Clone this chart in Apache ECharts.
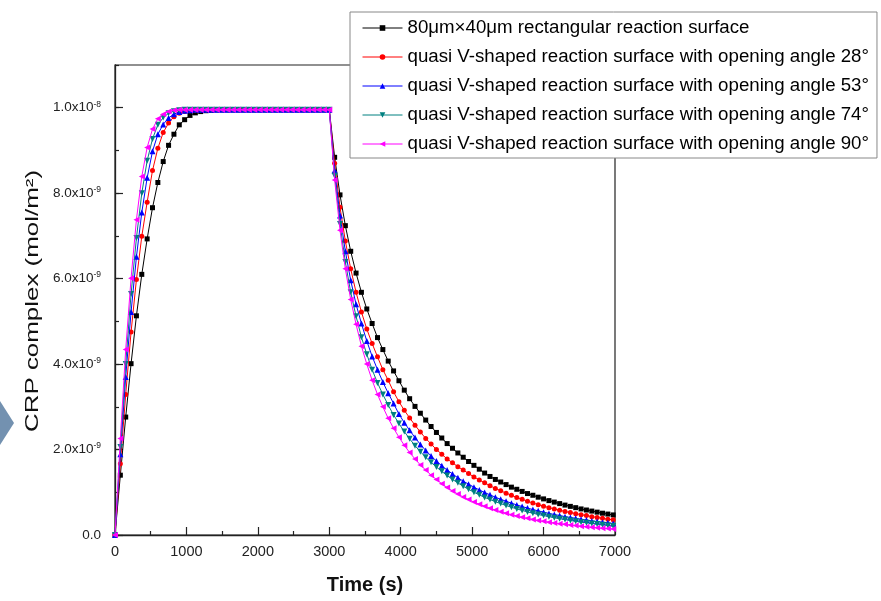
<!DOCTYPE html>
<html>
<head>
<meta charset="utf-8">
<script src="https://cdn.jsdelivr.net/npm/echarts@6/dist/echarts.min.js"></script>
<style>html,body{margin:0;padding:0;background:#fff;}#c{width:881px;height:601px;}</style>
</head>
<body>
<div id="c"></div>
<script>
// Time (s)
const times = [0,75,150,225,300,375,450,525,600,675,750,825,900,975,1050,1125,1200,1275,1350,1425,
1500,1575,1650,1725,1800,1875,1950,2025,2100,2175,2250,2325,2400,2475,2550,2625,2700,2775,2850,2925,3000,
3075,3150,3225,3300,3375,3450,3525,3600,3675,3750,3825,3900,3975,4050,4125,4200,4275,4350,4425,4500,
4575,4650,4725,4800,4875,4950,5025,5100,5175,5250,5325,5400,5475,5550,5625,5700,5775,5850,5925,6000,
6075,6150,6225,6300,6375,6450,6525,6600,6675,6750,6825,6900,6975];

// CRP complex, in units of 1e-9 mol/m^2
const rectSurface = [0,1.40,2.76,4.01,5.13,6.10,6.93,7.66,8.25,8.74,9.12,9.38,9.60,9.72,9.82,9.88,9.91,9.93,9.94,
9.95,9.95,9.95,9.95,9.95,9.95,9.95,9.95,9.95,9.95,
9.95,9.95,9.95,9.95,9.95,9.95,9.95,9.95,9.95,9.95,
9.95,9.95,
8.84,7.96,7.24,6.64,6.13,5.68,5.29,4.95,4.62,4.34,4.07,3.84,3.61,3.39,3.19,3.01,2.85,2.69,2.54,2.40,
2.27,2.14,2.03,1.92,1.82,1.72,1.63,1.54,1.45,1.37,1.30,1.24,1.18,1.12,1.07,1.02,0.97,0.93,0.885,0.845,
0.805,0.77,0.735,0.70,0.67,0.64,0.61,0.585,0.56,0.535,0.51,0.49,0.47];

const vAngle28 = [0,1.67,3.29,4.75,5.98,6.99,7.79,8.53,9.05,9.42,9.64,9.79,9.87,9.91,9.93,9.94,
9.95,9.95,9.95,9.95,9.95,9.95,9.95,9.95,9.95,9.95,
9.95,9.95,9.95,9.95,9.95,9.95,9.95,9.95,9.95,9.95,
9.95,9.95,9.95,9.95,9.95,
8.70,7.67,6.88,6.23,5.68,5.22,4.82,4.48,4.17,3.87,3.62,3.35,3.12,2.92,2.74,2.57,2.41,2.26,2.13,2.00,
1.89,1.78,1.69,1.60,1.52,1.44,1.36,1.29,1.22,1.155,1.09,1.035,0.98,0.93,0.88,0.835,0.79,0.75,0.71,0.675,
0.64,0.61,0.58,0.55,0.525,0.50,0.475,0.455,0.43,0.41,0.39,0.37,0.355];

const vAngle53 = [0,1.89,3.70,5.22,6.51,7.55,8.36,8.98,9.38,9.61,9.76,9.85,9.90,9.93,9.94,
9.95,9.95,9.95,9.95,9.95,9.95,9.95,9.95,9.95,9.95,
9.95,9.95,9.95,9.95,9.95,9.95,9.95,9.95,9.95,9.95,
9.95,9.95,9.95,9.95,9.95,9.95,
8.53,7.48,6.64,5.96,5.40,4.95,4.54,4.18,3.87,3.58,3.32,3.08,2.83,2.63,2.45,2.28,2.12,1.98,1.85,1.73,
1.62,1.52,1.43,1.34,1.26,1.19,1.12,1.055,0.995,0.94,0.885,0.835,0.79,0.745,0.705,0.665,0.63,0.595,0.565,0.535,
0.505,0.48,0.455,0.43,0.41,0.39,0.37,0.35,0.33,0.315,0.30,0.285,0.27];

const vAngle74 = [0,2.06,4.00,5.64,6.95,8.00,8.76,9.27,9.60,9.77,9.87,9.92,9.94,
9.95,9.95,9.95,9.95,9.95,9.95,9.95,9.95,9.95,9.95,
9.95,9.95,9.95,9.95,9.95,9.95,9.95,9.95,9.95,9.95,
9.95,9.95,9.95,9.95,9.95,9.95,9.95,9.95,
8.41,7.28,6.39,5.68,5.12,4.63,4.23,3.87,3.56,3.29,3.04,2.81,2.61,2.42,2.25,2.09,1.95,1.82,1.70,1.59,
1.49,1.39,1.30,1.22,1.14,1.07,1.00,0.94,0.88,0.83,0.78,0.735,0.69,0.65,0.61,0.575,0.54,0.51,0.48,0.455,
0.43,0.405,0.38,0.36,0.34,0.32,0.30,0.285,0.27,0.255,0.24,0.225,0.21];

const vAngle90 = [0,2.26,4.34,6.01,7.38,8.39,9.07,9.50,9.74,9.85,9.91,9.94,
9.95,9.95,9.95,9.95,9.95,9.95,9.95,9.95,9.95,9.95,
9.95,9.95,9.95,9.95,9.95,9.95,9.95,9.95,9.95,9.95,
9.95,9.95,9.95,9.95,9.95,9.95,9.95,9.95,9.95,
8.31,7.13,6.23,5.51,4.93,4.42,4.00,3.62,3.29,3.00,2.73,2.50,2.29,2.10,1.93,1.78,1.64,1.52,1.40,1.30,
1.20,1.11,1.03,0.96,0.89,0.83,0.77,0.72,0.67,0.625,0.585,0.545,0.51,0.475,0.445,0.415,0.39,0.365,0.34,0.32,
0.30,0.28,0.265,0.25,0.235,0.22,0.205,0.195,0.18,0.17,0.16,0.15,0.14];

const seriesNames = [
  '80\u03bcm\u00d740\u03bcm rectangular reaction surface',
  'quasi V-shaped reaction surface with opening angle 28\u00b0',
  'quasi V-shaped reaction surface with opening angle 53\u00b0',
  'quasi V-shaped reaction surface with opening angle 74\u00b0',
  'quasi V-shaped reaction surface with opening angle 90\u00b0'
];
const seriesValues = [rectSurface, vAngle28, vAngle53, vAngle74, vAngle90];
const seriesColors = ['#000000', '#ff0000', '#0000ff', '#008080', '#ff00ff'];
const seriesSymbols = ['rect', 'circle', 'triangle', 'triangle', 'triangle'];
const seriesSymbolRotate = [0, 0, 0, 180, 90];
const seriesSymbolSize = [5, 5, 6, 6, 6];

const xTicks = [0,1000,2000,3000,4000,5000,6000,7000];
const yTickValues = [0, 2, 4, 6, 8, 10];
const yTickText = ['0.0', '2.0x10', '4.0x10', '6.0x10', '8.0x10', '1.0x10'];
const yTickExp = ['', '-9', '-9', '-9', '-9', '-8'];

const FONT = '"Liberation Sans", Arial, sans-serif';

const chart = echarts.init(document.getElementById('c'), null, {renderer: 'canvas'});

const series = seriesNames.map((name, i) => ({
  name: name,
  type: 'line',
  xAxisIndex: 0,
  yAxisIndex: 0,
  data: times.map((t, j) => [t, seriesValues[i][j]]),
  symbol: seriesSymbols[i],
  symbolSize: seriesSymbolSize[i],
  symbolRotate: seriesSymbolRotate[i],
  showSymbol: true,
  itemStyle: {color: seriesColors[i]},
  lineStyle: {color: seriesColors[i], width: 1},
  z: 2 + i
}));

const option = {
  animation: false,
  backgroundColor: '#ffffff',
  textStyle: {fontFamily: FONT},
  grid: {left: 115, right: 266, top: 65, bottom: 66, show: true, borderColor: '#222', borderWidth: 1.2, backgroundColor: 'transparent'},
  legend: {
    orient: 'vertical', left: 350, top: 12,
    itemWidth: 40, itemHeight: 7, itemGap: 9,
    padding: [6, 8, 4, 12],
    borderColor: '#888', borderWidth: 1, backgroundColor: '#ffffff',
    lineStyle: {width: 1},
    textStyle: {fontSize: 18.7, color: '#000', fontFamily: FONT, lineHeight: 20},
    data: seriesNames,
    z: 10
  },
  xAxis: {
    type: 'value', min: xTicks[0], max: xTicks[xTicks.length - 1], interval: 1000,
    axisLine: {show: true, onZero: false, lineStyle: {color: '#222', width: 1.3}},
    axisTick: {show: true, inside: true, length: 8, lineStyle: {color: '#222', width: 1.2}},
    minorTick: {show: true, splitNumber: 2, length: 4, lineStyle: {color: '#222', width: 1.2}},
    splitLine: {show: false},
    axisLabel: {fontSize: 14.5, color: '#222', margin: 9, fontFamily: FONT,
      formatter: function (v) { return String(v); }},
    name: 'Time (s)', nameLocation: 'middle', nameGap: 40,
    nameTextStyle: {fontSize: 20, fontWeight: 'bold', color: '#111', fontFamily: FONT}
  },
  yAxis: [{
    type: 'value', min: 0, max: 11, interval: 2,
    axisLine: {show: true, onZero: false, lineStyle: {color: '#222', width: 1.3}},
    axisTick: {show: true, inside: true, length: 8, lineStyle: {color: '#222', width: 1.2}},
    splitLine: {show: false},
    axisLabel: {
      showMaxLabel: false, margin: 14, color: '#222',
      formatter: function (v) {
        const k = yTickValues.indexOf(Math.round(v * 1000) / 1000);
        if (k < 0) return '';
        if (!yTickExp[k]) return '{a|' + yTickText[k] + '}';
        return '{a|' + yTickText[k] + '}{b|' + yTickExp[k] + '}';
      },
      rich: {
        a: {fontSize: 13.5, color: '#222', fontFamily: FONT, lineHeight: 16},
        b: {fontSize: 8.5, color: '#222', fontFamily: FONT, verticalAlign: 'top', lineHeight: 9}
      }
    }
  }, {
    type: 'value', min: 0, max: 11, interval: 1, position: 'left',
    axisLine: {show: false},
    axisTick: {show: true, inside: true, length: 4, lineStyle: {color: '#222', width: 1.2}},
    axisLabel: {show: false},
    splitLine: {show: false}
  }],
  graphic: [
    {type: 'polygon', shape: {points: [[0, 401], [14, 423], [0, 445]]}, style: {fill: '#7391b0'}, z: 100},
    {
      type: 'text', x: 33, y: 301, rotation: Math.PI / 2, scaleX: 1.44, scaleY: 1,
      style: {text: 'CRP complex (mol/m\u00b2)', font: '18px "Liberation Sans", Arial, sans-serif', fill: '#111', align: 'center', verticalAlign: 'middle'},
      z: 100
    }
  ],
  series: series
};
chart.setOption(option);
</script>
</body>
</html>
